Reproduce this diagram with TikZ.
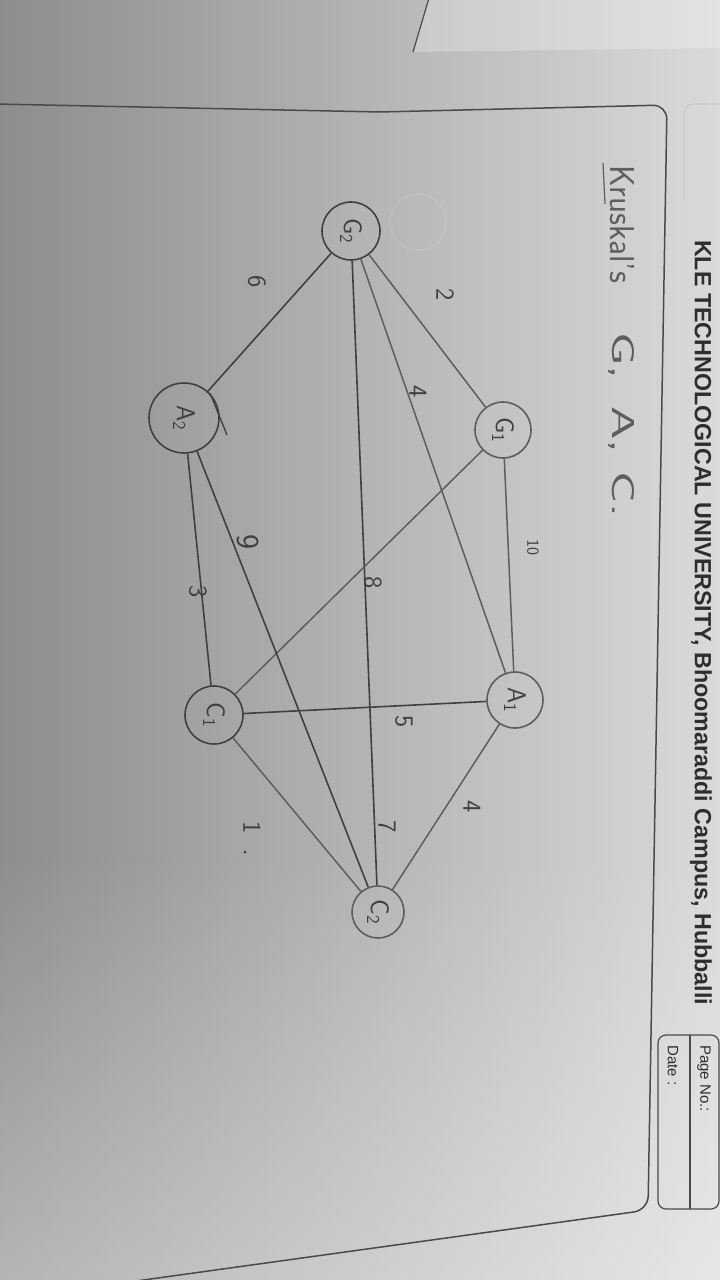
\documentclass[tikz,border=0pt]{standalone}
\usepackage{fontspec}
\usepackage{graphicx}
\setmainfont{Liberation Sans}
\usetikzlibrary{fadings}
\definecolor{bgL}{HTML}{8D8D8D}
\definecolor{bgM}{HTML}{B4B4B4}
\definecolor{bgR}{HTML}{DADADA}
\definecolor{pen}{HTML}{404040}
\definecolor{penL}{HTML}{5E5E5E}
\definecolor{frm}{HTML}{4A4A4A}
\definecolor{hdrc}{HTML}{2E2E2E}
\begin{document}
\begin{tikzpicture}[x=1pt,y=-1pt,
  frame/.style={draw=frm, line width=1.5pt},
  edge/.style={draw=penL, line width=1.5pt},
  darkedge/.style={draw=pen, line width=1.6pt},
  vtx/.style={circle, draw=penL, line width=1.6pt, inner sep=0pt, text=pen,
    font=\fontsize{26}{26}\selectfont\sffamily, rotate=-90},
  darkvtx/.style={vtx, draw=pen},
  wt/.style={text=pen, inner sep=0pt, rotate=-90,
    font=\fontsize{26}{26}\selectfont\sffamily},
  hw/.style={text=penL, inner sep=0pt, rotate=-90, anchor=west,
    font=\fontsize{24}{24}\selectfont\sffamily},
  print/.style={text=hdrc, inner sep=0pt, rotate=-90, anchor=west}
]
\useasboundingbox (0,0) rectangle (720,1280);
% background photo tone
\shade[left color=bgL, middle color=bgM, right color=bgR] (0,0) rectangle (720,1280);
\fill[white, opacity=0.35, path fading=north] (0,850) rectangle (720,1280);
\fill[white, opacity=0.25] (429,0) -- (720,0) -- (720,48) -- (413,52) -- cycle;
\draw[frm, line width=1.2pt] (429,-2) -- (413,52);
% page frame
\draw[frame, rounded corners=14pt] (-4,104) -- (380,112) -- (667,105) -- (648,1210) -- (100,1286);
% faint header box
\draw[gray!60!white, line width=0.8pt, opacity=0.6, rounded corners=10pt] (725,104) -- (684,104) -- (684,200);
% page no / date box
\draw[frame, line width=1.2pt, rounded corners=8pt] (658,1035) rectangle (719,1209);
\draw[frm, line width=1.1pt] (690,1035) -- (690,1209);
\node[print, font=\fontsize{15}{15}\selectfont] (pageno) at (704,1045) {Page No.:};
\node[print, font=\fontsize{15}{15}\selectfont] (date) at (673,1045) {Date :};
% header
\node[print] (hdr) at (701,240) {\resizebox{765pt}{17pt}{\bfseries KLE TECHNOLOGICAL UNIVERSITY, Bhoomaraddi Campus, Hubballi}};
% handwritten title
\node[hw] (title) at (622,165) {\resizebox{118pt}{24pt}{Kruskal's}};
\node[hw] (gac) at (622,332) {\resizebox{185pt}{22pt}{G,\,\,\,A,\,\,C.}};
\draw[penL, line width=1.2pt] (603,163) -- (605,204);
% ghost erased circle
\draw[white, line width=1pt, opacity=0.15] (418,222) circle (28);
% vertices
\node[darkvtx, minimum size=58pt] (G2) at (351,231) {G\textsubscript{2}};
\node[vtx, minimum size=56pt] (G1) at (503,430) {G\textsubscript{1}};
\node[darkvtx, minimum size=70pt] (A2) at (184,418) {A\textsubscript{2}};
\node[darkvtx, minimum size=58pt] (C1) at (214,715) {C\textsubscript{1}};
\node[vtx, minimum size=56pt] (A1) at (515,700) {A\textsubscript{1}};
\node[vtx, minimum size=52pt] (C2) at (378,912) {C\textsubscript{2}};
% edges
\draw[edge] (G2) -- (G1);
\draw[darkedge] (G2) -- (A2);
\draw[edge] (G2) -- (A1);
\draw[darkedge] (G2) -- (C2);
\draw[edge] (G1) -- (A1);
\draw[edge] (G1) -- (C1);
\draw[darkedge] (A2) -- (C1);
\draw[darkedge] (A2) -- (C2);
\draw[darkedge] (C1) -- (A1);
\draw[edge] (A1) -- (C2);
\draw[edge] (C1) -- (C2);
\draw[pen, line width=1.3pt] (210,393) -- (227,435);
% weights
\node[wt] (w2) at (445,295) {2};
\node[wt] (w4a) at (418,392) {4};
\node[wt, font=\fontsize{17}{17}\selectfont\sffamily] (w10) at (533,547) {10};
\node[wt] (w6) at (257,282) {6};
\node[wt] (w8) at (373,583) {8};
\node[wt, font=\fontsize{32}{32}\selectfont\sffamily] (w9) at (248,542) {9};
\node[wt] (w3) at (198,592) {3};
\node[wt] (w5) at (404,722) {5};
\node[wt] (w4b) at (472,807) {4};
\node[wt] (w7) at (387,827) {7};
\node[wt] (w1) at (252,828) {1};
\fill[pen] (245,852) circle (1.5);
\end{tikzpicture}
\end{document}
